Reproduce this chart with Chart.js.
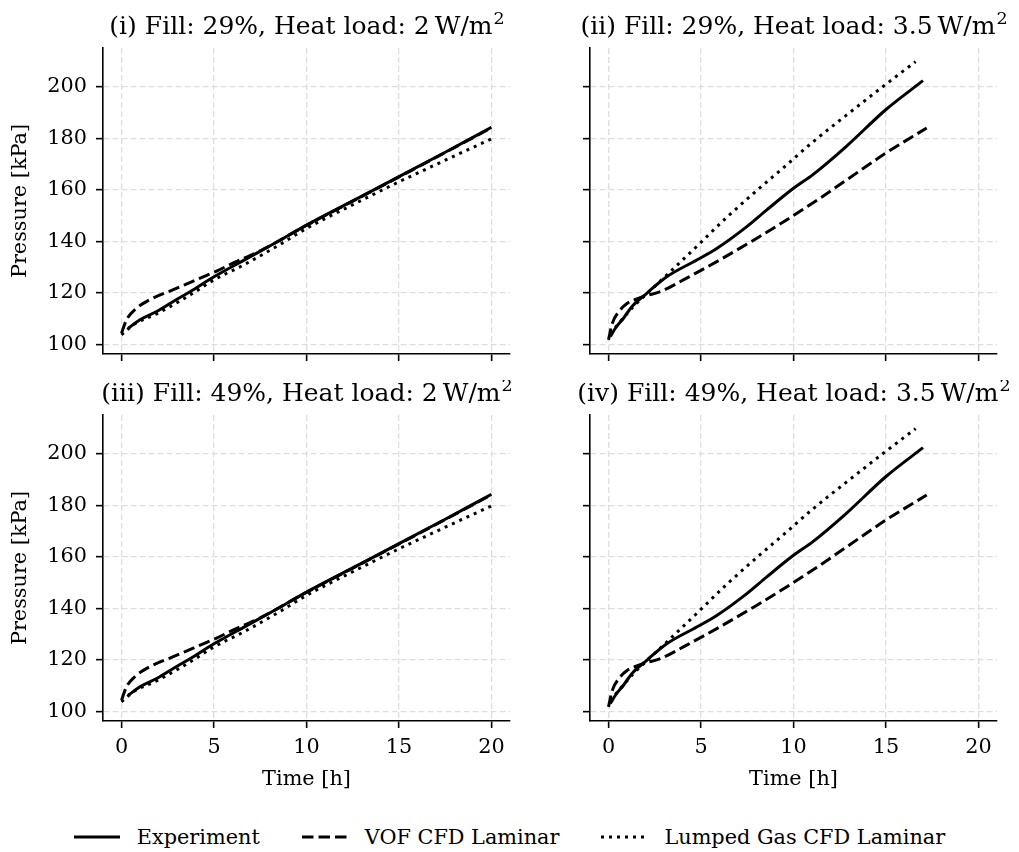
<!DOCTYPE html>
<html>
<head>
<meta charset="utf-8">
<script src="https://cdn.jsdelivr.net/npm/chart.js@4.4.0/dist/chart.umd.min.js"></script>
<style>
  body { margin: 0; background: #fff; width: 1019px; height: 852px; position: relative; overflow: hidden; font-family: "DejaVu Serif", serif; }
  canvas { position: absolute; }
  #legend { position: absolute; left: 0; width: 1019px; top: 822px; height: 30px; display: flex; justify-content: center; align-items: center; font-size: 20.8px; color: #000; }
  .item { display: flex; align-items: center; margin: 0 21px; }
  .item svg { margin-right: 17px; }
</style>
</head>
<body>
<canvas id="c1" width="520" height="380" style="left:0;top:0"></canvas>
<canvas id="c2" width="499" height="380" style="left:520px;top:0"></canvas>
<canvas id="c3" width="520" height="420" style="left:0;top:380px"></canvas>
<canvas id="c4" width="499" height="420" style="left:520px;top:380px"></canvas>
<div id="legend"></div>
<script>
// series (time in h, pressure in kPa)
const seriesNames = ['Experiment', 'VOF CFD Laminar', 'Lumped Gas CFD Laminar']
const panelTitles = [
    '(i) Fill: 29%, Heat load: 2\u2009W/m²',
    '(ii) Fill: 29%, Heat load: 3.5\u2009W/m²',
    '(iii) Fill: 49%, Heat load: 2\u2009W/m²',
    '(iv) Fill: 49%, Heat load: 3.5\u2009W/m²'
]
const xTicks = [0, 5, 10, 15, 20]
const yTicks = [100, 120, 140, 160, 180, 200]

// 2 W/m2 runs
const tExpA = [0.36, 1, 1.9, 3, 3.7, 5, 6.6, 8.57, 10, 12.5, 15, 17.5, 20]
const pExpA = [106.2, 109.5, 112.7, 117.5, 120.4, 126.2, 132.6, 140.4, 146.3, 155.7, 165.1, 174.6, 184.3]
const tVofA = [0, 0.27, 0.72, 1.53, 2.8, 4.06, 5.14, 6.05, 7.5, 10, 12.5, 15, 17.5, 20]
const pVofA = [104.3, 109.5, 113.4, 117.3, 121.2, 125.1, 128.4, 131.6, 136.3, 146.2, 155.6, 165, 174.5, 184.1]
const tLumpA = [0, 0.63, 1.9, 3.7, 5, 6.6, 8.5, 10, 12.5, 15, 17.5, 20]
const pLumpA = [103.6, 107.5, 111.8, 119.1, 125, 130.8, 138.5, 145, 154.2, 163.1, 171.5, 179.8]

// 3.5 W/m2 runs
const tExpB = [0.1, 0.4, 0.8, 1.26, 2.07, 3.15, 4.77, 5.85, 7.46, 8.54, 10, 11.05, 12.86, 15, 17]
const pExpB = [103, 106.5, 110, 114.6, 119.8, 126.2, 132.7, 137.2, 145.6, 152.1, 160.6, 165.9, 176.9, 191.2, 202.4]
const tVofB = [0, 0.2, 0.6, 1, 1.5, 2, 2.8, 4.2, 6, 8, 9.6, 11.4, 12.9, 15, 17.2]
const pVofB = [101.7, 108, 113, 115.8, 117.5, 118.8, 120.4, 125.6, 132.7, 141.1, 148.2, 156.6, 164, 174.3, 184]
const tLumpB = [0.1, 0.6, 1.35, 2.2, 3.15, 4.77, 6.38, 8, 9.62, 11.05, 12.86, 14.67, 16.6]
const pLumpB = [104, 108.5, 114.6, 120.5, 126.9, 138, 149.2, 159.6, 169.6, 178.6, 189, 199.2, 209.8]

const dashes = [[], [11.5, 5], [3, 5]]
const FONT = 'DejaVu Serif'
Chart.defaults.font.family = FONT
Chart.defaults.color = '#000'

const pts = (t, p) => t.map((v, i) => ({x: v, y: p[i]}))

const panelTitle = {
    id: 'panelTitle',
    afterDraw(chart, args, opts) {
        const {ctx, chartArea} = chart
        const [main, sup] = opts.text.split('²')
        ctx.save()
        ctx.fillStyle = '#000'
        ctx.textBaseline = 'alphabetic'
        ctx.font = '25px "' + FONT + '"'
        const w1 = ctx.measureText(main).width
        ctx.font = '17.5px "' + FONT + '"'
        const w2 = ctx.measureText('2').width
        const x0 = (chartArea.left + chartArea.right) / 2 - (w1 + w2) / 2
        const y = chartArea.top - 14
        ctx.font = '25px "' + FONT + '"'
        ctx.fillText(main, x0, y)
        ctx.font = '17.5px "' + FONT + '"'
        ctx.fillText('2', x0 + w1 + 1, y - 10)
        ctx.restore()
    }
}

function makePanel(id, title, sets, showX, showY, top, right, xh, yw) {
    const datasets = sets.map((s, i) => ({
        label: seriesNames[i],
        data: pts(s[0], s[1]),
        borderColor: '#000',
        borderWidth: 3,
        borderDash: dashes[i],
        pointRadius: 0,
        fill: false,
        cubicInterpolationMode: 'monotone'
    }))
    const gridOpts = {color: '#dedede', lineWidth: 1.3, tickLength: 7, tickColor: '#000', tickWidth: 1.6}
    const borderOpts = {color: '#000', width: 1.6, dash: [6, 3]}
    return new Chart(document.getElementById(id), {
        type: 'line',
        data: {datasets},
        plugins: [panelTitle],
        options: {
            responsive: false,
            animation: false,
            layout: {padding: {top, right, left: 0, bottom: 0}},
            plugins: {
                legend: {display: false},
                tooltip: {enabled: false},
                panelTitle: {text: title}
            },
            scales: {
                x: {
                    type: 'linear',
                    min: -1,
                    max: 21,
                    afterBuildTicks: s => { s.ticks = xTicks.map(v => ({value: v})) },
                    afterFit: s => { s.height = xh },
                    ticks: {display: showX, padding: 7, font: {size: 20.8}, color: '#000'},
                    grid: gridOpts,
                    border: borderOpts,
                    title: {display: showX, text: 'Time [h]', font: {size: 20.8}, color: '#000', padding: {top: 0, bottom: 8}}
                },
                y: {
                    min: 96.2,
                    max: 215.1,
                    afterBuildTicks: s => { s.ticks = yTicks.map(v => ({value: v})) },
                    afterFit: s => { s.width = yw },
                    ticks: {display: showY, padding: 9, font: {size: 20.8}, color: '#000'},
                    grid: gridOpts,
                    border: borderOpts,
                    title: {display: showY, text: 'Pressure [kPa]', font: {size: 20.8}, color: '#000', padding: {top: 8, bottom: 0}}
                }
            }
        }
    })
}

const setsA = [[tExpA, pExpA], [tVofA, pVofA], [tLumpA, pLumpA]]
const setsB = [[tExpB, pExpB], [tVofB, pVofB], [tLumpB, pLumpB]]

makePanel('c1', panelTitles[0], setsA, false, true, 48, 10, 26, 103)
makePanel('c2', panelTitles[1], setsB, false, false, 48, 22, 26, 70)
makePanel('c3', panelTitles[2], setsA, true, true, 35, 10, 79, 103)
makePanel('c4', panelTitles[3], setsB, true, false, 35, 22, 79, 70)

// shared legend below the panels
const legend = document.getElementById('legend')
seriesNames.forEach((name, i) => {
    const item = document.createElement('div')
    item.className = 'item'
    item.innerHTML = '<svg width="46" height="10"><line x1="0" y1="5" x2="46" y2="5" stroke="#000" stroke-width="3" stroke-dasharray="' +
        (dashes[i].length ? dashes[i].join(' ') : 'none') + '"/></svg><span>' + name + '</span>'
    legend.appendChild(item)
})
</script>
</body>
</html>
